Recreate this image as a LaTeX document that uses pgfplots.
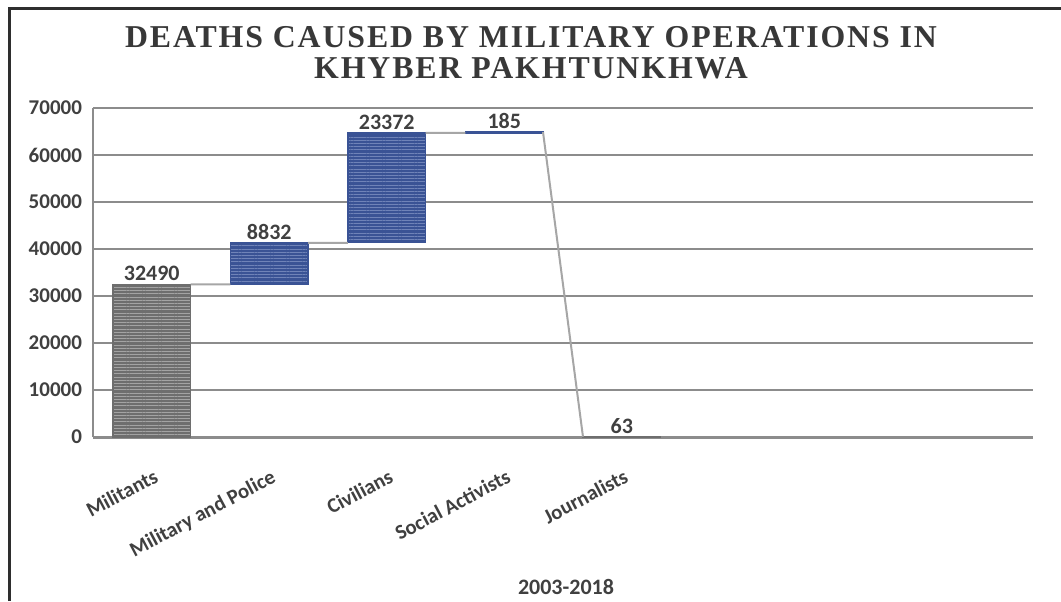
\documentclass[border=0pt]{standalone}
\usepackage{fontspec}
\setmainfont{Carlito}
\newfontfamily\titlefont[LetterSpace=6]{Liberation Serif}
\usepackage{pgfplots}
\pgfplotsset{compat=1.18}
\usepackage{pgfplotstable}
\usetikzlibrary{patterns.meta}
\definecolor{txt}{HTML}{404040}
\definecolor{gridc}{HTML}{8C8C8C}
\definecolor{conn}{HTML}{A6A6A6}
\definecolor{barblue}{HTML}{3A5395}
\definecolor{stripeb}{HTML}{6F83B8}
\definecolor{bargray}{HTML}{6E6E6E}
\definecolor{stripeg}{HTML}{A3A3A3}

% label positions (top of each bar) and the values shown
\pgfplotstableread{
x top label
0 32490 32490
1 41322 8832
2 64694 23372
3 64879 185
4 63 63
}\labeldata

% connector lines between bars
\pgfplotstableread{
x y
0.33 32490
0.67 32490
nan nan
1.33 41322
1.67 41322
nan nan
2.33 64694
2.67 64694
nan nan
3.33 64879
3.67 63
}\conndata

\tikzset{
  graybar/.style={fill=bargray, draw=bargray, line width=0.6pt,
    postaction={pattern={Lines[angle=0,distance=1.6pt,line width=0.45pt]}, pattern color=stripeg}},
  bluebar/.style={fill=barblue, draw=barblue, line width=0.6pt,
    postaction={pattern={Lines[angle=0,distance=1.6pt,line width=0.45pt]}, pattern color=stripeb}},
}

\begin{document}
\begin{tikzpicture}
\useasboundingbox (0,0) rectangle (530.5pt,300.5pt);
\fill[white] (0,0) rectangle (530.5pt,300.5pt);
% frame
\draw[line width=1.5pt, black!82] (4.6pt,0) -- (4.6pt,296pt) -- (530.5pt,296pt);

\begin{axis}[
  at={(46.5pt,82pt)}, anchor=south west,
  scale only axis, width=470pt, height=164.5pt,
  xmin=-0.5, xmax=7.5, ymin=0, ymax=70000,
  axis x line*=bottom, axis y line*=left,
  axis line style={gridc, line width=1pt},
  x axis line style={line width=1.5pt},
  ymajorgrids, grid style={gridc, line width=1pt},
  ytick={0,10000,...,70000},
  scaled y ticks=false,
  major tick length=0pt,
  yticklabel style={font=\bfseries\fontsize{10.5}{12}\selectfont, text=txt,
    /pgf/number format/set thousands separator={},
    /pgf/number format/assume math mode=true, xshift=-2pt},
  xtick={0,1,2,3,4},
  xticklabels={Militants, Military and Police, Civilians, Social Activists, Journalists},
  xticklabel style={font=\bfseries\fontsize{10.4}{12}\selectfont, text=txt,
    rotate=28, anchor=north east, xshift=-3.5pt, yshift=-10.5pt},
  clip=false,
]
% waterfall bars (start and end of each bar)
\addplot[graybar] coordinates {(-0.33,0) (0.33,0) (0.33,32490) (-0.33,32490)} -- cycle;
\addplot[bluebar] coordinates {(0.67,32490) (1.33,32490) (1.33,41322) (0.67,41322)} -- cycle;
\addplot[bluebar] coordinates {(1.67,41322) (2.33,41322) (2.33,64694) (1.67,64694)} -- cycle;
\addplot[bluebar] coordinates {(2.67,64694) (3.33,64694) (3.33,64879) (2.67,64879)} -- cycle;
\addplot[graybar] coordinates {(3.67,0) (4.33,0) (4.33,63) (3.67,63)} -- cycle;
% connectors
\addplot[conn, line width=1pt, unbounded coords=jump, mark=none] table[x=x, y=y] {\conndata};
% value labels
\addplot[draw=none, mark=none, nodes near coords, point meta=explicit symbolic,
  nodes near coords style={anchor=south, font=\bfseries\fontsize{11}{12}\selectfont, text=txt, inner sep=1.5pt}]
  table[x=x, y=top, meta=label] {\labeldata};
\end{axis}

% title
\node[align=center, text=black!78, font=\titlefont\bfseries\fontsize{15.9}{15.5}\selectfont]
  at (265.5pt,274pt) {DEATHS CAUSED BY MILITARY OPERATIONS IN\\KHYBER PAKHTUNKHWA};
% x axis title
\node[font=\bfseries\fontsize{11}{12}\selectfont, text=txt] at (283pt,6.8pt) {2003-2018};
\end{tikzpicture}
\end{document}
